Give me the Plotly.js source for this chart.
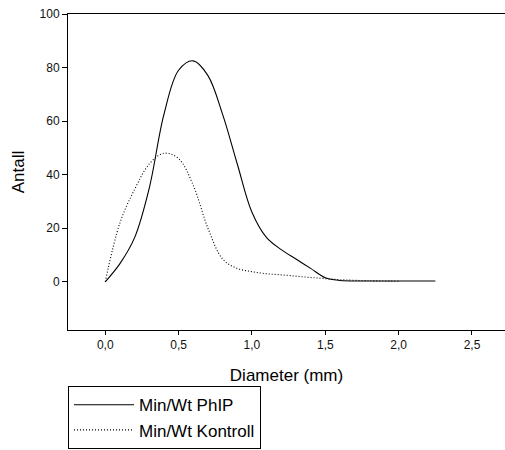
<!DOCTYPE html>
<html>
<head>
<meta charset="utf-8">
<script src="https://cdn.plot.ly/plotly-3.0.1.min.js"></script>
<style>html,body{margin:0;padding:0;overflow:hidden;background:#fff;}#chart{width:505px;height:450px;}</style>
</head>
<body>
<div id="chart"></div>
<script>
var phipX = [0, 0.1, 0.2, 0.3, 0.4, 0.5, 0.6, 0.7, 0.8, 0.9, 1.0, 1.1, 1.2, 1.3, 1.4, 1.5, 1.6, 1.75, 2.0, 2.25];
var phipY = [0, 6.8, 16.5, 35, 62.5, 79, 82.5, 77, 62.5, 44, 26, 16.5, 12, 8.5, 5, 1.5, 0.5, 0.3, 0.3, 0.3];
var kontrollX = [0, 0.1, 0.2, 0.3, 0.4, 0.5, 0.6, 0.7, 0.8, 0.9, 1.0, 1.1, 1.2, 1.3, 1.4, 1.5, 1.6, 1.8, 2.0];
var kontrollY = [0, 22, 34.5, 44, 48, 46, 36, 20, 8.5, 5, 3.8, 3, 2.6, 2.1, 1.6, 1.2, 0.8, 0.4, 0.2];
var seriesNames = ["Min/Wt PhIP", "Min/Wt Kontroll"];
var xTicks = [0, 0.5, 1.0, 1.5, 2.0, 2.5];
var yTicks = [0, 20, 40, 60, 80, 100];

var font = "Liberation Sans, Arial, sans-serif";
var traces = [
  {x: phipX, y: phipY, name: seriesNames[0], mode: "lines",
   line: {color: "#000", width: 1.1, shape: "spline", smoothing: 1}},
  {x: kontrollX, y: kontrollY, name: seriesNames[1], mode: "lines",
   line: {color: "#000", width: 1.1, dash: "1px,2px", shape: "spline", smoothing: 1}}
];
var layout = {
  width: 505, height: 450,
  margin: {l: 68, r: 0, t: 14, b: 120, autoexpand: false},
  paper_bgcolor: "#fff", plot_bgcolor: "#fff",
  separators: ", ",
  font: {family: font, color: "#111"},
  showlegend: true,
  legend: {x: 0, y: -0.178, xanchor: "left", yanchor: "top",
    bordercolor: "#000", borderwidth: 1, bgcolor: "#fff",
    font: {family: font, size: 17, color: "#000"},
    itemwidth: 60},
  xaxis: {range: [-0.254, 2.725], tickvals: xTicks, tickformat: ".1f",
    showgrid: false, zeroline: false, showline: true, mirror: true,
    linecolor: "#000", linewidth: 1, ticks: "outside", ticklen: 4, tickcolor: "#000",
    tickfont: {size: 12, family: font, color: "#111"},
    title: {text: "Diameter (mm)", font: {size: 17, family: font, color: "#000"}, standoff: 17}},
  yaxis: {range: [-18, 100], tickvals: yTicks,
    showgrid: false, zeroline: false, showline: true, mirror: false,
    linecolor: "#000", linewidth: 1, ticks: "outside", ticklen: 5, tickcolor: "#000",
    tickfont: {size: 12, family: font, color: "#111"},
    title: {text: "Antall", font: {size: 17, family: font, color: "#000"}, standoff: 10}}
};
Plotly.newPlot("chart", traces, layout, {displayModeBar: false, staticPlot: true});
</script>
</body>
</html>
